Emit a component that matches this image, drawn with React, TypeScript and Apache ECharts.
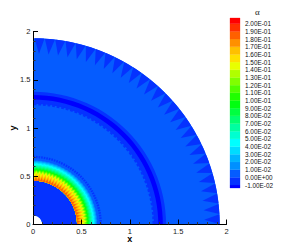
import React, { useEffect, useRef } from "react";
import * as echarts from "echarts";

const legendTitle = "α";
const tickValues = [0.2,0.19,0.18,0.17,0.16,0.15,0.14,0.13,0.12,0.11,0.1,0.09,0.08,0.07,0.06,0.05,0.04,0.03,0.02,0.01,0,-0.01];
const tickLabels = ["2.00E-01","1.90E-01","1.80E-01","1.70E-01","1.60E-01","1.50E-01","1.40E-01","1.30E-01","1.20E-01","1.10E-01","1.00E-01","9.00E-02","8.00E-02","7.00E-02","6.00E-02","5.00E-02","4.00E-02","3.00E-02","2.00E-02","1.00E-02","0.00E+00","-1.00E-02"];
// band colours, bottom (below -0.01) to top (above 0.2)
const bandColors = ["#0000ff","#0532ff","#055cff","#0090ff","#00b4ff","#00dcff","#00ffff","#00ffd0","#00ffa0","#00ff70","#00ff40","#00ff10","#20ff00","#50ff00","#80ff00","#b0ff00","#e8ff00","#ffe000","#ffc000","#ff9000","#ff6000","#ff3000","#ff0000"];

// [inner radius, outer radius, band]
const baseRings = [
  [0.095,1.93,2],
  [1.25,1.375,1],
  [1.295,1.342,0],
  [0.095,0.455,1],
];
// outer-edge triangles: centre angle in degrees
const toothAngles = [1.6,4.8,8,11.2,14.4,17.6,20.8,24,27.2,30.4,33.6,36.8,40,43.2,46.4,49.6,52.8,56,59.2,62.4,65.6,68.8,72,75.2,78.4,81.6,84.8,88];
// dotted rings: centre angle in degrees
const dotAngles = [1,3.2,5.4,7.6,9.8,12,14.2,16.4,18.6,20.8,23,25.2,27.4,29.6,31.8,34,36.2,38.4,40.6,42.8,45,47.2,49.4,51.6,53.8,56,58.2,60.4,62.6,64.8,67,69.2,71.4,73.6,75.8,78,80.2,82.4,84.6,86.8,89];
// [inner radius, outer radius]
const dotRings = [[0.688,0.712],[1.235,1.26]];
// hot ring, outside in: [band, radius on even mesh lines, radius on odd mesh lines]
const hotContours = [
  [3,0.665,0.66],[4,0.655,0.65],[5,0.645,0.64],[6,0.635,0.628],[7,0.622,0.615],[8,0.61,0.603],
  [9,0.598,0.59],[10,0.588,0.58],[11,0.578,0.57],[12,0.572,0.56],[13,0.566,0.55],[14,0.56,0.54],
  [15,0.555,0.53],[16,0.55,0.52],[17,0.54,0.50],[18,0.53,0.485],[19,0.51,0.462],[20,0.49,0.456],
];
const meshAngles = [0,1.8,3.6,5.4,7.2,9,10.8,12.6,14.4,16.2,18,19.8,21.6,23.4,25.2,27,28.8,30.6,32.4,34.2,36,37.8,39.6,41.4,43.2,45,46.8,48.6,50.4,52.2,54,55.8,57.6,59.4,61.2,63,64.8,66.6,68.4,70.2,72,73.8,75.6,77.4,79.2,81,82.8,84.6,86.4,88.2,90];
const arcSteps = [0,3,6,9,12,15,18,21,24,27,30,33,36,39,42,45,48,51,54,57,60,63,66,69,72,75,78,81,84,87,90];

const TOOTH_OUTER = 1.93, TOOTH_INNER = 1.77, TOOTH_HALF = 1.55, HOT_INNER = 0.455;
const DOT_HALF = 0.65;

const rad = (d: number) => (d * Math.PI) / 180;
const pt = (api: any, r: number, deg: number) => api.coord([r * Math.cos(rad(deg)), r * Math.sin(rad(deg))]);

export default function App() {
  const ref = useRef<HTMLDivElement>(null);
  useEffect(() => {
    document.body.style.margin = "0";
    const chart = echarts.init(ref.current!, null, { renderer: "svg" });
    const font = "Liberation Sans";
    const axisCommon = {
      min: 0, max: 2, interval: 0.5, z: 10,
      axisLine: { show: true, onZero: false, lineStyle: { color: "#000", width: 1 } },
      axisTick: { show: true, inside: true, length: 5, lineStyle: { color: "#000", width: 1 } },
      minorTick: { show: true, splitNumber: 5, length: 2.5, lineStyle: { color: "#333", width: 1 } },
      splitLine: { show: false },
      axisLabel: { color: "#222", fontSize: 7.5, fontFamily: font, margin: 2.5 },
      nameLocation: "middle" as const,
      nameMoveOverlap: false,
      nameTextStyle: { color: "#000", fontSize: 9, fontWeight: "bold" as const, fontFamily: font },
    };
    chart.setOption({
      animation: false,
      backgroundColor: "#fff",
      title: { text: legendTitle, left: 255, top: 7, padding: 0, textStyle: { color: "#222", fontSize: 9, fontWeight: "normal", fontFamily: "Liberation Serif" } },
      grid: [
        { left: 33, top: 31.5, width: 193.5, height: 193, containLabel: false, outerBoundsMode: "none" },
        { left: 230, top: 18, width: 10, height: 170, containLabel: false, outerBoundsMode: "none" },
      ],
      xAxis: [
        { ...axisCommon, type: "value", name: "x", nameGap: 10, gridIndex: 0 },
        { type: "value", gridIndex: 1, min: 0, max: 1, show: false },
      ],
      yAxis: [
        { ...axisCommon, type: "value", name: "y", nameGap: 16, gridIndex: 0 },
        { type: "value", gridIndex: 1, min: -0.0139, max: 0.2074, show: false },
      ],
      series: [
        {
          type: "custom", coordinateSystem: "cartesian2d", silent: true, data: baseRings,
          renderItem: (_: any, api: any) => {
            const r0 = api.value(0), r1 = api.value(1), band = api.value(2);
            const points = [...arcSteps.map((d) => pt(api, r1, d)), ...[...arcSteps].reverse().map((d) => pt(api, r0, d))];
            return { type: "polygon", shape: { points }, style: { fill: bandColors[band] } };
          },
        },
        {
          type: "custom", coordinateSystem: "cartesian2d", silent: true, data: toothAngles.map((a) => [a]),
          renderItem: (_: any, api: any) => {
            const a = api.value(0);
            return { type: "polygon", shape: { points: [pt(api, TOOTH_OUTER, a - TOOTH_HALF), pt(api, TOOTH_OUTER, a), pt(api, TOOTH_OUTER, a + TOOTH_HALF), pt(api, TOOTH_INNER, a)] }, style: { fill: bandColors[1] } };
          },
        },
        ...dotRings.map((ring) => ({
          type: "custom", coordinateSystem: "cartesian2d", silent: true, data: dotAngles.map((a) => [a]),
          renderItem: (_: any, api: any) => {
            const a = api.value(0);
            return { type: "polygon", shape: { points: [pt(api, ring[0], a - DOT_HALF), pt(api, ring[1], a - DOT_HALF), pt(api, ring[1], a + DOT_HALF), pt(api, ring[0], a + DOT_HALF)] }, style: { fill: bandColors[1] } };
          },
        })),
        {
          type: "custom", coordinateSystem: "cartesian2d", silent: true, data: hotContours,
          renderItem: (_: any, api: any) => {
            const band = api.value(0), even = api.value(1), odd = api.value(2);
            const points = [
              ...meshAngles.map((d, i) => pt(api, i % 2 === 0 ? even : odd, d)),
              ...[...arcSteps].reverse().map((d) => pt(api, HOT_INNER, d)),
            ];
            return { type: "polygon", shape: { points }, style: { fill: bandColors[band] } };
          },
        },
        {
          type: "custom", coordinateSystem: "cartesian2d", xAxisIndex: 1, yAxisIndex: 1, silent: true,
          data: bandColors.map((_, i) => [i]),
          renderItem: (_: any, api: any) => {
            const i = api.value(0);
            // band i lies between tick i-1 (below) and tick i (above), counted from the bottom
            const asc = [...tickValues].reverse();
            const lo = i === 0 ? -0.0139 : asc[i - 1];
            const hi = i === bandColors.length - 1 ? 0.2074 : asc[i];
            const a = api.coord([0, hi]), b = api.coord([1, lo]);
            return { type: "rect", shape: { x: a[0], y: a[1], width: b[0] - a[0], height: b[1] - a[1] }, style: { fill: bandColors[i], stroke: bandColors[i], lineWidth: 0.3 } };
          },
        },
        {
          type: "custom", coordinateSystem: "cartesian2d", xAxisIndex: 1, yAxisIndex: 1, silent: true,
          data: tickValues.map((v, i) => [v, i]),
          renderItem: (_: any, api: any) => {
            const p = api.coord([1, api.value(0)]);
            return { type: "text", x: p[0] + 5, y: p[1], style: { text: tickLabels[api.value(1)], fill: "#111", fontSize: 6.4, fontFamily: font, verticalAlign: "middle", align: "left" } };
          },
        },
      ],
    });
    return () => chart.dispose();
  }, []);
  return <div ref={ref} style={{ width: 281, height: 249 }} />;
}
